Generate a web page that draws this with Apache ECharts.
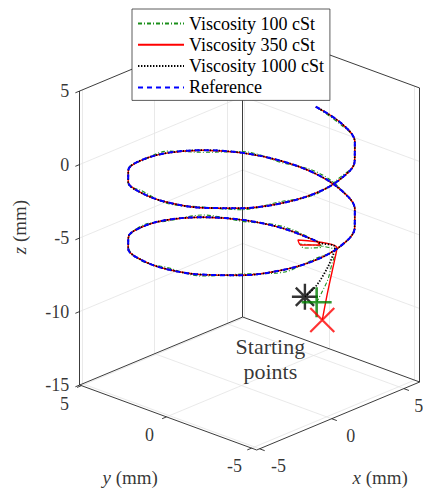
<!DOCTYPE html>
<html><head><meta charset="utf-8">
<script src="https://cdn.jsdelivr.net/npm/echarts@6/dist/echarts.min.js"></script>
<style>html,body{margin:0;padding:0;background:#fff}#c{width:424px;height:488px}</style>
</head><body><div id="c"></div>
<script>
// ---- axis limits and ticks (mm) ----
const xLim = [-5.2, 6.1];
const yLim = [-5.3, 5.1];
const zLim = [-15, 5];
const xTicks = [-5, 0, 5];
const yTicks = [-5, 0, 5];
const zTicks = [-15, -10, -5, 0, 5];
const seriesNames = ['Viscosity 100 cSt', 'Viscosity 350 cSt', 'Viscosity 1000 cSt', 'Reference'];

// ---- reference helix ----
const refX = [5.15, 4.84, 3.95, 2.58, 0.89, -0.89, -2.58, -3.95, -4.84, -5.15, -4.84, -3.95, -2.58, -0.89, 0.89, 2.58, 3.95, 4.84, 5.15, 4.84, 3.95, 2.58, 0.89, -0.89, -2.58, -3.95, -4.84, -5.15, -4.84, -3.95, -2.58, -0.89, 0.89, 2.58, 3.95, 4.84, 5.15];
const refY = [0, 1.76, 3.31, 4.46, 5.07, 5.07, 4.46, 3.31, 1.76, 0, -1.76, -3.31, -4.46, -5.07, -5.07, -4.46, -3.31, -1.76, 0, 1.76, 3.31, 4.46, 5.07, 5.07, 4.46, 3.31, 1.76, 0, -1.76, -3.31, -4.46, -5.07, -5.07, -4.46, -3.31, -1.76, 0];
const refZ = [-7.26, -7.00, -6.75, -6.50, -6.24, -5.99, -5.74, -5.48, -5.23, -4.98, -4.72, -4.47, -4.22, -3.96, -3.71, -3.46, -3.21, -2.95, -2.70, -2.45, -2.19, -1.94, -1.69, -1.43, -1.18, -0.93, -0.67, -0.42, -0.17, 0.09, 0.34, 0.59, 0.85, 1.10, 1.35, 1.61, 1.86];

// ---- tracking deviation of the 100 cSt run from the reference, z (mm) ----
const dev100Z = [0.00, 0.12, -0.10, 0.15, -0.08, 0.10, -0.14, 0.18, -0.06, 0.12, -0.10, 0.08, -0.15, 0.10, -0.05, 0.14, -0.12, 0.06, 0.15, -0.10, 0.08, -0.14, 0.12, -0.06, 0.10, -0.12, 0.16, -0.08, 0.05, -0.10, 0.12, -0.08, 0.14, -0.06, 0.10, -0.12, 0.00];

// ---- initial transients from the starting points ----
const v100X = [6.0, 5.85, 5.7, 5.55, 5.4, 5.0, 5.0, 5.15];
const v100Y = [0.67, 0.23, -0.25, -0.61, -0.98, 0.80, 0.57, -0.36];
const v100Z = [-12.07, -11.13, -9.98, -8.74, -7.64, -7.76, -7.93, -7.53];
const v350X = [6.0, 5.85, 5.7, 5.55, 5.4, 5.0, 5.0, 5.15];
const v350Y = [0.34, -0.01, -0.37, -0.73, -1.03, 0.92, 0.74, -0.25];
const v350Z = [-13.14, -11.57, -10.06, -8.62, -7.41, -7.53, -7.80, -7.44];
const v1000X = [6.0, 5.8, 5.6, 5.45, 5.35, 5.2];
const v1000Y = [1.36, 0.54, -0.10, -0.64, -0.96, -0.20];
const v1000Z = [-11.99, -10.83, -9.66, -8.42, -7.36, -7.34];

// ---- view (orthographic camera on the normalised axes box) ----
const VIEW = { o: [256.7, 450], ex: [163, -68], ey: [-177, -65], ez: [0, -294] };
function P(x, y, z) {
  const a = (x - xLim[0]) / (xLim[1] - xLim[0]);
  const b = (y - yLim[0]) / (yLim[1] - yLim[0]);
  const c = (z - zLim[0]) / (zLim[1] - zLim[0]);
  return [VIEW.o[0] + VIEW.ex[0] * a + VIEW.ey[0] * b + VIEW.ez[0] * c,
          VIEW.o[1] + VIEW.ex[1] * a + VIEW.ey[1] * b + VIEW.ez[1] * c];
}
const path = (X, Y, Z) => X.map((v, i) => P(v, Y[i], Z[i]));
const seg = (a, b) => ({ coords: [P(...a), P(...b)] });

const [x0, x1] = xLim, [y0, y1] = yLim, [z0, z1] = zLim;
const FONT = 'Liberation Serif';

// grid lines on the back walls and the floor
const gridSegs = [];
zTicks.filter(z => z > z0 && z < z1).forEach(z => {
  gridSegs.push(seg([x0, y1, z], [x1, y1, z]));
  gridSegs.push(seg([x1, y1, z], [x1, y0, z]));
});
xTicks.forEach(x => {
  gridSegs.push(seg([x, y1, z0], [x, y1, z1]));
  gridSegs.push(seg([x, y0, z0], [x, y1, z0]));
});
yTicks.forEach(y => {
  gridSegs.push(seg([x1, y, z0], [x1, y, z1]));
  gridSegs.push(seg([x0, y, z0], [x1, y, z0]));
});
// box edges and axis lines
const boxSegs = [
  seg([x0, y1, z0], [x0, y1, z1]),
  seg([x0, y1, z1], [x1, y1, z1]), seg([x1, y1, z1], [x1, y0, z1]),
  seg([x1, y0, z0], [x1, y0, z1]), seg([x1, y1, z0], [x1, y1, z1]),
  seg([x0, y1, z0], [x1, y1, z0]), seg([x1, y1, z0], [x1, y0, z0]),
  seg([x0, y1, z0], [x0, y0, z0]), seg([x0, y0, z0], [x1, y0, z0])
];
const TK = 0.3;
const tickSegs = [];
zTicks.forEach(z => tickSegs.push(seg([x0, y1, z], [x0 - TK, y1, z])));
xTicks.forEach(x => tickSegs.push(seg([x, y0, z0], [x, y0 - TK, z0])));
yTicks.forEach(y => tickSegs.push(seg([x0, y, z0], [x0 - TK, y, z0])));

function labels(points, texts, label, itemLabels) {
  return {
    type: 'scatter', silent: true, z: 6, symbolSize: 1,
    itemStyle: { color: 'rgba(0,0,0,0)' },
    data: points.map((p, i) => {
      const d = { value: p, name: texts[i] };
      if (itemLabels && itemLabels[i]) d.label = itemLabels[i];
      return d;
    }),
    label: Object.assign({ show: true, formatter: '{b}', color: '#000', fontFamily: FONT, fontSize: 18 }, label)
  };
}
const fmt = v => String(v);
const richI = { i: { fontStyle: 'italic', fontFamily: FONT, fontSize: 19, color: '#000' } };

const helixLine = (name, pts, color, width, type, z) => ({
  type: 'line', name, data: pts, symbol: 'none', smooth: 0.35, z,
  lineStyle: { color, width, type }, itemStyle: { color }
});

const refPts = path(refX, refY, refZ);
const track100 = path(refX, refY, refZ.map((v, i) => v + dev100Z[i]));
const pts100 = path(v100X, v100Y, v100Z).concat(track100);
const pts350 = path(v350X, v350Y, v350Z).concat(refPts);
const pts1000 = path(v1000X, v1000Y, v1000Z).concat(refPts);

const chart = echarts.init(document.getElementById('c'), null, { renderer: 'svg', width: 424, height: 488 });
chart.setOption({
  animation: false,
  backgroundColor: '#fff',
  grid: { left: 0, top: 0, width: 424, height: 488 },
  xAxis: { type: 'value', min: 0, max: 424, show: false },
  yAxis: { type: 'value', min: 0, max: 488, inverse: true, show: false },
  legend: {
    data: seriesNames, orient: 'vertical', left: 132, top: 9,
    itemWidth: 46, itemHeight: 14, itemGap: 3.3,
    padding: [5.5, 6, 4, 5],
    backgroundColor: '#fff', borderColor: '#333', borderWidth: 0.8,
    itemStyle: { opacity: 0 },
    textStyle: { fontFamily: FONT, fontSize: 18, color: '#000', lineHeight: 18 },
    selectedMode: false
  },
  series: [
    { type: 'lines', coordinateSystem: 'cartesian2d', silent: true, z: 1,
      lineStyle: { color: '#e3e3e3', width: 0.8, opacity: 1 }, data: gridSegs },
    { type: 'lines', coordinateSystem: 'cartesian2d', silent: true, z: 2,
      lineStyle: { color: '#262626', width: 0.9, opacity: 1 }, data: boxSegs.concat(tickSegs) },
    helixLine(seriesNames[0], pts100, '#1a8f1a', 1.1, [4, 2, 1, 2], 3),
    helixLine(seriesNames[1], pts350, '#ff0000', 1.4, 'solid', 3),
    helixLine(seriesNames[2], pts1000, '#000000', 1.8, [1.4, 1.6], 3),
    helixLine(seriesNames[3], refPts, '#0000ff', 2, [5, 4], 3),
    { type: 'scatter', silent: true, z: 5, symbol: 'path://M10 0L10 20M0 10L20 10M3 3L17 17M3 17L17 3',
      symbolSize: 26, itemStyle: { color: 'rgba(0,0,0,0)', borderColor: '#000', borderWidth: 2.4 },
      data: [P(v1000X[0], v1000Y[0], v1000Z[0])] },
    { type: 'scatter', silent: true, z: 5, symbol: 'path://M10 0L10 20M0 10L20 10',
      symbolSize: 30, itemStyle: { color: 'rgba(0,0,0,0)', borderColor: '#008000', borderWidth: 2.6 },
      data: [P(v100X[0], v100Y[0], v100Z[0])] },
    { type: 'scatter', silent: true, z: 5, symbol: 'path://M0 0L20 20M0 20L20 0',
      symbolSize: 24, itemStyle: { color: 'rgba(0,0,0,0)', borderColor: '#ff0000', borderWidth: 2.2 },
      data: [P(v350X[0], v350Y[0], v350Z[0])] },
    labels(zTicks.map(z => P(x0, y1, z)), zTicks.map(fmt), { position: 'left', distance: 10 }),
    labels(yTicks.map(y => P(x0, y, z0)), yTicks.map(fmt), { position: 'inside', align: 'center', verticalAlign: 'middle', offset: [-17, 18] }),
    labels(xTicks.map(x => P(x, y0, z0)), xTicks.map(fmt), { position: 'inside', align: 'center', verticalAlign: 'middle', offset: [19, 17.5] },
      [null, null, { align: 'right', offset: [19.5, 17.5] }]),
    labels([P(x0, (y0 + y1) / 2, z0)], ['{i|y} (mm)'], { position: 'inside', align: 'center', verticalAlign: 'middle', offset: [-38, 59.5], fontSize: 19, rich: richI }),
    labels([P((x0 + x1) / 2, y0, z0)], ['{i|x} (mm)'], { position: 'inside', align: 'center', verticalAlign: 'middle', offset: [42, 61], fontSize: 19, rich: richI }),
    labels([P(x0, y1, (z0 + z1) / 2)], ['{i|z} (mm)'], { position: 'inside', align: 'center', verticalAlign: 'middle', rotate: 90, offset: [11, -60], fontSize: 19, rich: richI }),
    labels([P(2, 0, -14)], ['Starting\npoints'], { position: 'inside', align: 'center', verticalAlign: 'middle', fontSize: 22, lineHeight: 25 })
  ]
});
</script></body></html>
